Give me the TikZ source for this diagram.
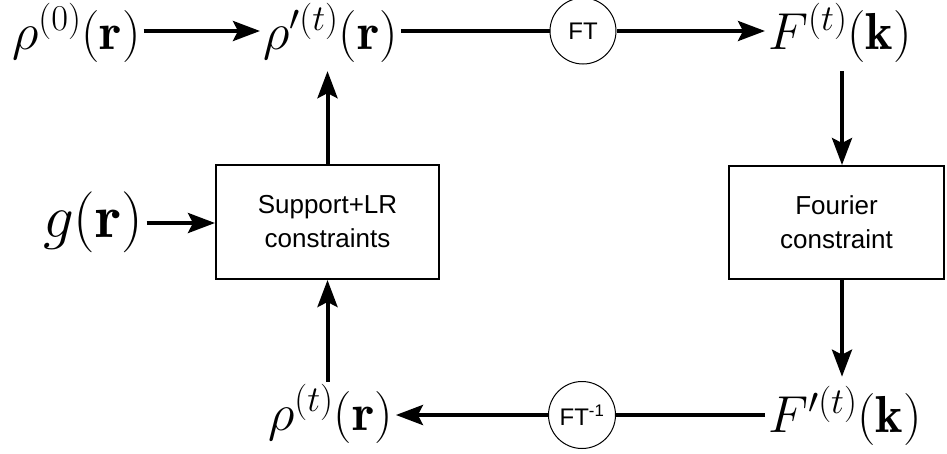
\RequirePackage{fix-cm}
\documentclass[tikz,border=0pt]{standalone}
\usepackage{fontspec}
\newfontfamily\arialf{Liberation Sans}
\usetikzlibrary{arrows.meta}
\begin{document}
\begin{tikzpicture}[x=1pt,y=-1pt,
  arr/.style={line width=4pt,-{Stealth[length=27pt,width=20pt,inset=5pt]}},
  ln/.style={line width=4pt},
  mth/.style={inner xsep=3pt,inner ysep=9pt,anchor=base west,font=\fontsize{52}{54}\selectfont},
  cbox/.style={draw,line width=2pt,inner sep=0pt,font=\arialf\fontsize{26}{34}\selectfont,align=center},
  ftc/.style={draw,circle,line width=1pt,minimum size=66pt,inner sep=0pt,font=\arialf\fontsize{24}{26}\selectfont}]
\useasboundingbox (0,0) rectangle (947,453);
\coordinate (rowT) at (0,31);
\coordinate (rowM) at (0,223);
\coordinate (rowB) at (0,415);
\coordinate (colR) at (842,0);

\node[mth] (rho0) at (9,49) {$\rho^{(0)}(\mathbf{r})$};
\node[mth] (rhop) at (260,49) {$\rho'^{(t)}(\mathbf{r})$};
\node[mth] (Ft) at (765,49) {$F^{(t)}(\mathbf{k})$};
\node[mth,font=\fontsize{61}{64}\selectfont] (g) at (40,237) {$g(\mathbf{r})$};
\node[mth] (rhot) at (265,430) {$\rho^{(t)}(\mathbf{r})$};
\node[mth] (Fp) at (765,432) {$F'^{(t)}(\mathbf{k})$};

\node[ftc] (ft) at (583,31) {FT};
\node[ftc,minimum size=67pt] (fti) at (582,415) {FT\textsuperscript{-1}};

\node[cbox,minimum width=223pt,minimum height=114pt] (lbox) at (327.5,222) {Support+LR\\constraints};
\node[cbox,minimum width=215pt,minimum height=113pt] (fbox) at (836.5,222.5) {Fourier\\constraint};

\draw[arr] (rho0.east |- rowT) -- (rhop.west |- rowT);
\draw[ln] (rhop.east |- rowT) -- (ft.west);
\draw[arr] (ft.east) -- (Ft.west |- rowT);
\draw[arr] (Ft.south -| colR) -- (fbox.north -| colR);
\draw[arr] (fbox.south -| colR) -- (Fp.north -| colR);
\draw[ln] (Fp.west |- rowB) -- (fti.east);
\draw[arr] (fti.west) -- (rhot.east |- rowB);
\draw[arr] ([yshift=-7pt]rhot.north -| lbox.south) -- (lbox.south);
\draw[arr] (lbox.north) -- (rhop.south -| lbox.north);
\draw[arr] (g.east |- rowM) -- (lbox.west |- rowM);
\end{tikzpicture}
\end{document}
